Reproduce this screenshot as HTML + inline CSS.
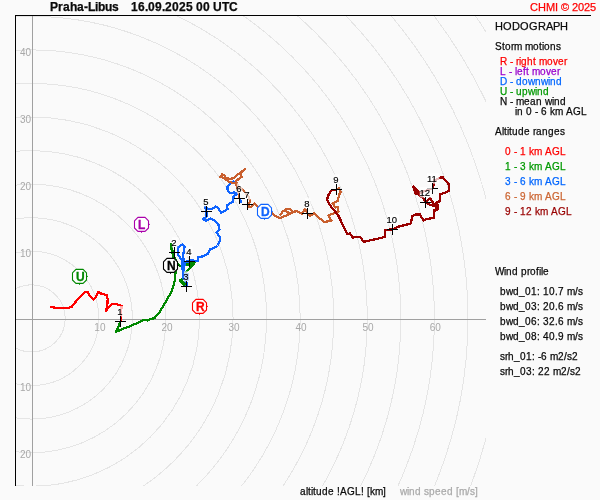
<!DOCTYPE html>
<html><head><meta charset="utf-8"><title>Hodograph</title>
<style>
html,body{margin:0;padding:0;background:#fafafa;}
svg{display:block;will-change:transform;font-family:"Liberation Sans",Arial,sans-serif;}
</style></head><body>
<svg width="600" height="500" viewBox="0 0 600 500">
<rect width="600" height="500" fill="#fafafa"/>
<defs><clipPath id="pc"><rect x="16" y="16" width="470" height="470"/></clipPath></defs>
<g clip-path="url(#pc)" fill="none" stroke="#e5e5e5" stroke-width="1" shape-rendering="crispEdges">
<circle cx="31.7" cy="318.4" r="33.56"/>
<circle cx="31.7" cy="318.4" r="67.12"/>
<circle cx="31.7" cy="318.4" r="100.68"/>
<circle cx="31.7" cy="318.4" r="134.24"/>
<circle cx="31.7" cy="318.4" r="167.80"/>
<circle cx="31.7" cy="318.4" r="201.36"/>
<circle cx="31.7" cy="318.4" r="234.92"/>
<circle cx="31.7" cy="318.4" r="268.48"/>
<circle cx="31.7" cy="318.4" r="302.04"/>
<circle cx="31.7" cy="318.4" r="335.60"/>
<circle cx="31.7" cy="318.4" r="369.16"/>
<circle cx="31.7" cy="318.4" r="402.72"/>
<circle cx="31.7" cy="318.4" r="436.28"/>
<circle cx="31.7" cy="318.4" r="469.84"/>
<circle cx="31.7" cy="318.4" r="503.40"/>
<circle cx="31.7" cy="318.4" r="536.96"/>
<circle cx="31.7" cy="318.4" r="570.52"/>
<circle cx="31.7" cy="318.4" r="604.08"/>
<circle cx="31.7" cy="318.4" r="637.64"/>
</g>
<g stroke="#a0a0a0" stroke-width="1" shape-rendering="crispEdges">
<line x1="32.5" y1="16" x2="32.5" y2="486"/>
<line x1="16" y1="319.5" x2="486" y2="319.5"/>
</g>
<g stroke="#000" stroke-width="1" shape-rendering="crispEdges">
<line x1="15.5" y1="15" x2="15.5" y2="486"/>
<line x1="15" y1="15.5" x2="591" y2="15.5"/>
</g>
<g font-size="10" fill="#a8a8a8" text-anchor="middle">
<text x="99.9" y="330.9">10</text>
<text x="167.0" y="330.9">20</text>
<text x="234.1" y="330.9">30</text>
<text x="301.1" y="330.9">40</text>
<text x="368.1" y="330.9">50</text>
<text x="435.2" y="330.9">60</text>
<text x="25.5" y="55.6">40</text>
<text x="25.5" y="122.7">30</text>
<text x="25.5" y="189.7">20</text>
<text x="25.5" y="256.8">10</text>
<text x="25.5" y="390.9">10</text>
<text x="25.5" y="457.9">20</text>
</g>
<g fill="none" stroke-width="2.25" stroke-linejoin="round" stroke-linecap="round" shape-rendering="crispEdges">
<path d="M51.3,307.0 L55.5,307.8 L68.3,307.8 L72.0,306.7 L75.0,302.5 L81.8,295.0 L85.5,291.7 L87.8,292.3 L90.8,297.3 L93.8,299.5 L96.0,297.3 L97.8,292.3 L99.3,292.0 L101.3,293.8 L106.8,295.0 L107.7,299.5 L107.3,304.8 L106.2,310.8 L108.0,307.8 L112.5,304.0 L116.3,304.0 L121.5,305.8 L121.3,312.0 L120.6,321.3" stroke="#ff0000"/>
<path d="M120.6,321.3 L116.0,331.8 L121.3,329.5 L131.0,325.8 L137.8,322.8 L143.0,320.2 L146.0,319.8 L147.5,320.8 L149.8,319.0 L154.3,318.3 L159.5,312.3 L164.0,304.8 L167.8,298.0 L171.5,292.0 L173.8,284.5 L174.8,280.0 L175.6,271.8 L175.0,262.0 L173.5,257.6 L172.4,252.0 L171.4,248.5 L170.7,243.8 L171.3,247.0 L172.6,252.0 L173.7,256.0 L175.5,259.5 L178.0,264.0 L180.0,266.0 L185.0,264.5 L194.8,262.6 L191.5,266.0 L188.0,270.3 L184.0,273.0 L183.0,278.0 L179.8,280.5 L184.4,284.4 L186.5,286.5" stroke="#008800"/>
<path d="M171,244.5 L171.8,249 L173,254 L174.2,258" stroke="#008800" stroke-width="2.9"/>
<path d="M180.3,280.8 L185,284.6" stroke="#008800" stroke-width="3.4"/>
<path d="M185.8,264.6 L192.8,264" stroke="#008800" stroke-width="3.2"/>
<path d="M186.5,286.5 L187.0,283.0 L183.0,278.0 L183.0,271.6 L182.4,261.0 L177.7,254.0 L178.4,247.0 L182.3,244.6 L184.7,246.7 L183.0,255.5 L183.7,261.0 L185.0,265.0 L183.0,262.0 L189.5,261.3 L191.0,259.7 L194.4,261.0 L198.0,261.4 L198.4,257.2 L202.4,256.4 L204.5,255.8 L208.0,253.5 L210.0,249.5 L215.0,247.5 L217.5,245.5 L219.5,242.0 L220.0,237.0 L216.5,232.5 L219.5,230.0 L218.5,225.0 L215.0,221.0 L210.5,218.5 L206.0,221.0 L203.0,219.0 L206.5,217.0 L206.5,211.3 L205.0,206.5 L208.5,209.0 L212.0,209.0 L216.0,206.5 L218.0,208.0 L221.0,212.5 L224.0,211.5 L227.5,209.0 L227.0,205.5 L230.0,203.0 L233.0,202.0 L233.5,196.5 L237.0,194.0 L234.0,192.5 L230.0,193.0 L227.5,190.0 L227.5,186.5 L230.0,183.5 L233.5,181.5 L235.5,183.0 L238.0,190.0 L239.5,198.5 L241.0,202.0" stroke="#0f64ff"/>
<path d="M182.6,261.5 L183.4,271" stroke="#0f64ff" stroke-width="3.6"/>
<path d="M186.7,272.5 V280.5" stroke="#0f64ff" stroke-width="5.4" stroke-linecap="butt"/>
<path d="M239.5,198.5 L239.0,195.0 L237.5,188.0 L236.0,183.5 L229.5,182.0 L222.0,177.0 L220.0,177.0 L222.0,174.5 L224.5,175.5 L225.0,177.5 L230.5,179.0 L233.5,178.0 L245.0,169.0 L241.0,173.0 L241.5,177.0 L236.0,181.0 L238.0,186.0 L243.0,190.0 L249.0,197.0 L250.0,202.0 L247.5,204.5 L249.5,207.0 L252.0,206.5 L254.5,203.5 L257.5,206.5 L262.0,210.0 L268.0,211.0 L272.5,213.5 L276.0,216.5 L280.0,218.0 L284.0,216.5 L290.0,214.0 L293.0,212.0 L290.0,209.0 L286.0,209.5 L283.0,211.3 L280.5,214.5 L283.0,211.3 L286.0,211.0 L290.0,214.0 L293.0,212.0 L297.0,211.0 L302.0,213.8 L305.0,209.0 L307.5,213.3 L310.0,216.0 L314.0,213.5 L318.0,217.0 L324.5,222.0 L331.5,220.5 L329.5,217.5 L328.5,215.5 L333.5,213.5 L338.5,212.0 L338.0,207.0 L335.5,207.5 L332.5,203.5 L338.0,200.5 L339.0,195.0 L340.5,192.0 L339.0,188.0 L336.5,189.5" stroke="#c95f2e"/>
<path d="M336.5,189.5 L331.0,190.5 L328.5,195.0 L327.0,199.5 L329.0,204.0 L333.0,209.0 L338.0,215.0 L341.0,221.0 L346.0,232.0 L347.5,234.0 L350.0,233.5 L352.5,237.5 L360.0,237.0 L363.5,241.5 L365.0,241.5 L385.0,237.0 L385.3,230.0 L392.5,229.3 L399.0,226.5 L411.0,223.5 L412.0,216.5 L415.0,214.5 L420.0,214.5 L423.5,220.5 L427.0,219.0 L434.0,218.0 L434.5,210.0 L437.0,208.0 L436.0,202.5 L439.5,202.0 L440.0,194.5 L449.0,191.0 L448.5,183.0 L445.5,180.5 L442.5,177.0 L439.5,178.0 L434.0,180.5 L433.0,188.5 L429.0,189.5 L420.0,193.0 L413.5,186.5 L416.0,193.0 L423.0,198.0 L425.5,202.3 L430.0,198.0 L435.0,206.0 L430.0,205.0 L425.5,202.3" stroke="#990000"/>
<path d="M413.4,186.6 L419,192 L419,193.4 L415.6,193.8 L414.4,190 Z" stroke="#990000" fill="#990000"/>
<path d="M436.5,203.5 V209.5" stroke="#990000" stroke-width="4"/>
</g>
<path d="M195.9,299.4 L203.1,299.4 L206.5,302.8 L206.5,310.0 L203.1,313.4 L195.9,313.4 L192.5,310.0 L192.5,302.8 Z" fill="#ffffff" stroke="#ff0000" stroke-width="1.1" stroke-linejoin="round"/>
<path d="M199.5,313.4 v1.4 M206.5,306.4 h1.4" stroke="#ff0000" stroke-width="1" fill="none"/>
<text x="196.0" y="310.75" font-size="12" font-weight="bold" fill="#ff0000" stroke="#ff0000" stroke-width="0.3">R</text>
<path d="M137.9,217.4 L145.1,217.4 L148.5,220.8 L148.5,228.0 L145.1,231.4 L137.9,231.4 L134.5,228.0 L134.5,220.8 Z" fill="#ffffff" stroke="#aa00aa" stroke-width="1.1" stroke-linejoin="round"/>
<path d="M141.5,231.4 v1.4 M148.5,224.4 h1.4" stroke="#aa00aa" stroke-width="1" fill="none"/>
<text x="138.0" y="228.75" font-size="12" font-weight="bold" fill="#aa00aa" stroke="#aa00aa" stroke-width="0.3">L</text>
<path d="M260.9,204.4 L268.1,204.4 L271.5,207.8 L271.5,215.0 L268.1,218.4 L260.9,218.4 L257.5,215.0 L257.5,207.8 Z" fill="#ffffff" stroke="#0f64ff" stroke-width="1.1" stroke-linejoin="round"/>
<path d="M264.5,218.4 v1.4 M271.5,211.4 h1.4" stroke="#0f64ff" stroke-width="1" fill="none"/>
<text x="261.0" y="215.75" font-size="12" font-weight="bold" fill="#0f64ff" stroke="#0f64ff" stroke-width="0.3">D</text>
<path d="M75.9,269.4 L83.1,269.4 L86.5,272.8 L86.5,280.0 L83.1,283.4 L75.9,283.4 L72.5,280.0 L72.5,272.8 Z" fill="#ffffff" stroke="#008800" stroke-width="1.1" stroke-linejoin="round"/>
<path d="M79.5,283.4 v1.4 M86.5,276.4 h1.4" stroke="#008800" stroke-width="1" fill="none"/>
<text x="76.0" y="280.75" font-size="12" font-weight="bold" fill="#008800" stroke="#008800" stroke-width="0.3">U</text>
<path d="M166.9,258.4 L174.1,258.4 L177.5,261.8 L177.5,269.0 L174.1,272.4 L166.9,272.4 L163.5,269.0 L163.5,261.8 Z" fill="#ffffff" stroke="#000000" stroke-width="1.1" stroke-linejoin="round"/>
<path d="M170.5,272.4 v1.4 M177.5,265.4 h1.4" stroke="#000000" stroke-width="1" fill="none"/>
<text x="167.0" y="269.75" font-size="12" font-weight="bold" fill="#000000" stroke="#000000" stroke-width="0.3">N</text>
<rect x="118.0" y="306.1" width="5.6" height="10.4" fill="#ffffff" fill-opacity="0.72"/>
<text x="119.9" y="315.2" font-size="9.5" fill="#000" stroke="#000" stroke-width="0.15" text-anchor="middle">1</text>
<path d="M115.0,321.5 H126.0 M120.5,316.0 V327.0" stroke="#000" stroke-width="1" fill="none"/>
<rect x="171.9" y="237.1" width="5.6" height="10.4" fill="#ffffff" fill-opacity="0.72"/>
<text x="173.8" y="246.2" font-size="9.5" fill="#000" stroke="#000" stroke-width="0.15" text-anchor="middle">2</text>
<path d="M169.0,252.5 H180.0 M174.5,247.0 V258.0" stroke="#000" stroke-width="1" fill="none"/>
<rect x="183.9" y="271.3" width="5.6" height="10.4" fill="#ffffff" fill-opacity="0.72"/>
<text x="185.8" y="280.4" font-size="9.5" fill="#000" stroke="#000" stroke-width="0.15" text-anchor="middle">3</text>
<path d="M181.0,286.5 H192.0 M186.5,281.0 V292.0" stroke="#000" stroke-width="1" fill="none"/>
<rect x="186.9" y="246.1" width="5.6" height="10.4" fill="#ffffff" fill-opacity="0.72"/>
<text x="188.8" y="255.2" font-size="9.5" fill="#000" stroke="#000" stroke-width="0.15" text-anchor="middle">4</text>
<path d="M184.0,261.5 H195.0 M189.5,256.0 V267.0" stroke="#000" stroke-width="1" fill="none"/>
<rect x="203.9" y="196.1" width="5.6" height="10.4" fill="#ffffff" fill-opacity="0.72"/>
<text x="205.8" y="205.2" font-size="9.5" fill="#000" stroke="#000" stroke-width="0.15" text-anchor="middle">5</text>
<path d="M201.0,211.5 H212.0 M206.5,206.0 V217.0" stroke="#000" stroke-width="1" fill="none"/>
<rect x="236.9" y="183.3" width="5.6" height="10.4" fill="#ffffff" fill-opacity="0.72"/>
<text x="238.8" y="192.4" font-size="9.5" fill="#000" stroke="#000" stroke-width="0.15" text-anchor="middle">6</text>
<path d="M234.0,198.5 H245.0 M239.5,193.0 V204.0" stroke="#000" stroke-width="1" fill="none"/>
<rect x="244.9" y="189.3" width="5.6" height="10.4" fill="#ffffff" fill-opacity="0.72"/>
<text x="246.8" y="198.4" font-size="9.5" fill="#000" stroke="#000" stroke-width="0.15" text-anchor="middle">7</text>
<path d="M242.0,204.5 H253.0 M247.5,199.0 V210.0" stroke="#000" stroke-width="1" fill="none"/>
<rect x="304.9" y="198.1" width="5.6" height="10.4" fill="#ffffff" fill-opacity="0.72"/>
<text x="306.8" y="207.2" font-size="9.5" fill="#000" stroke="#000" stroke-width="0.15" text-anchor="middle">8</text>
<path d="M302.0,213.5 H313.0 M307.5,208.0 V219.0" stroke="#000" stroke-width="1" fill="none"/>
<rect x="333.9" y="174.3" width="5.6" height="10.4" fill="#ffffff" fill-opacity="0.72"/>
<text x="335.8" y="183.4" font-size="9.5" fill="#000" stroke="#000" stroke-width="0.15" text-anchor="middle">9</text>
<path d="M331.0,189.5 H342.0 M336.5,184.0 V195.0" stroke="#000" stroke-width="1" fill="none"/>
<rect x="386.7" y="214.1" width="12.4" height="10.4" fill="#ffffff" fill-opacity="0.72"/>
<text x="391.8" y="223.2" font-size="9.5" fill="#000" stroke="#000" stroke-width="0.15" text-anchor="middle">10</text>
<path d="M387.0,229.5 H398.0 M392.5,224.0 V235.0" stroke="#000" stroke-width="1" fill="none"/>
<rect x="426.8" y="173.3" width="12.4" height="10.4" fill="#ffffff" fill-opacity="0.72"/>
<text x="431.9" y="182.4" font-size="9.5" fill="#000" stroke="#000" stroke-width="0.15" text-anchor="middle">11</text>
<path d="M427.0,188.5 H438.0 M432.5,183.0 V194.0" stroke="#000" stroke-width="1" fill="none"/>
<rect x="419.7" y="187.1" width="12.4" height="10.4" fill="#ffffff" fill-opacity="0.72"/>
<text x="424.8" y="196.2" font-size="9.5" fill="#000" stroke="#000" stroke-width="0.15" text-anchor="middle">12</text>
<path d="M420.0,202.5 H431.0 M425.5,197.0 V208.0" stroke="#000" stroke-width="1" fill="none"/>
<g stroke-width="0.25">
<text x="50 58 63 70 77 84 88 95 98 105 112 119 122 125 128 131 138 145 148 155 162 165 172 179 186 193 196 203 210 213 222 229" y="11" font-size="12" fill="#0a0a0a" font-weight="bold" xml:space="preserve" stroke="#0a0a0a">Praha-Libus    16.09.2025 00 UTC</text>
<text x="530 538 546 555 558 561 569 572 578 584 590" y="10.6" font-size="11" fill="#ff0000" xml:space="preserve" stroke="#ff0000">CHMI © 2025</text>
<text x="495 503 512 520 529 538 546 553 560" y="30" font-size="11" fill="#0a0a0a" xml:space="preserve" stroke="#0a0a0a">HODOGRAPH</text>
<text x="495 502 505 511 514 522 525 533 539 542 544 550 556" y="50" font-size="10" fill="#0a0a0a" xml:space="preserve" stroke="#0a0a0a">Storm motions</text>
<text x="500 507 510 513 516 519 521 527 533 536 539 547 553 558 564" y="64.7" font-size="10" fill="#ff0000" xml:space="preserve" stroke="#ff0000">R - right mover</text>
<text x="500 506 509 512 515 517 523 526 529 532 540 546 551 557" y="74.7" font-size="10" fill="#9900cc" xml:space="preserve" stroke="#9900cc">L - left mover</text>
<text x="500 507 510 513 516 522 528 535 541 548 550 556" y="84.7" font-size="10" fill="#0066ff" xml:space="preserve" stroke="#0066ff">D - downwind</text>
<text x="500 507 510 513 516 522 528 535 537 543" y="94.7" font-size="10" fill="#009900" xml:space="preserve" stroke="#009900">U - upwind</text>
<text x="500 507 510 513 516 524 530 536 542 545 552 554 560" y="104.7" font-size="10" fill="#0a0a0a" xml:space="preserve" stroke="#0a0a0a">N - mean wind</text>
<text x="515 517 523 526 532 535 538 541 547 550 555 563 566 573 581" y="114.7" font-size="10" fill="#0a0a0a" xml:space="preserve" stroke="#0a0a0a">in 0 - 6 km AGL</text>
<text x="495 502 504 507 509 512 518 524 530 533 536 542 548 554 560" y="135" font-size="10" fill="#0a0a0a" xml:space="preserve" stroke="#0a0a0a">Altitude ranges</text>
<text x="505 511 514 517 520 526 529 534 542 545 552 560" y="155" font-size="10" fill="#ff0000" xml:space="preserve" stroke="#ff0000">0 - 1 km AGL</text>
<text x="505 511 514 517 520 526 529 534 542 545 552 560" y="170" font-size="10" fill="#009900" xml:space="preserve" stroke="#009900">1 - 3 km AGL</text>
<text x="505 511 514 517 520 526 529 534 542 545 552 560" y="185" font-size="10" fill="#0066ff" xml:space="preserve" stroke="#0066ff">3 - 6 km AGL</text>
<text x="505 511 514 517 520 526 529 534 542 545 552 560" y="200" font-size="10" fill="#cc6633" xml:space="preserve" stroke="#cc6633">6 - 9 km AGL</text>
<text x="505 511 514 517 520 526 532 535 540 548 551 558 566" y="215" font-size="10" fill="#990000" xml:space="preserve" stroke="#990000">9 - 12 km AGL</text>
<text x="495 504 506 512 518 521 527 530 536 539 541 543" y="275" font-size="10" fill="#0a0a0a" xml:space="preserve" stroke="#0a0a0a">Wind profile</text>
<text x="500 506 513 519 525 531 537 540 543 549 555 558 564 567 575 578" y="295" font-size="10" fill="#0a0a0a" xml:space="preserve" stroke="#0a0a0a">bwd_01: 10.7 m/s</text>
<text x="500 506 513 519 525 531 537 540 543 549 555 558 564 567 575 578" y="310" font-size="10" fill="#0a0a0a" xml:space="preserve" stroke="#0a0a0a">bwd_03: 20.6 m/s</text>
<text x="500 506 513 519 525 531 537 540 543 549 555 558 564 567 575 578" y="325" font-size="10" fill="#0a0a0a" xml:space="preserve" stroke="#0a0a0a">bwd_06: 32.6 m/s</text>
<text x="500 506 513 519 525 531 537 540 543 549 555 558 564 567 575 578" y="340" font-size="10" fill="#0a0a0a" xml:space="preserve" stroke="#0a0a0a">bwd_08: 40.9 m/s</text>
<text x="500 505 508 514 520 526 532 535 538 541 547 550 558 564 567 572" y="360" font-size="10" fill="#0a0a0a" xml:space="preserve" stroke="#0a0a0a">srh_01: -6 m2/s2</text>
<text x="500 505 508 514 520 526 532 535 538 544 550 553 561 567 570 575" y="375" font-size="10" fill="#0a0a0a" xml:space="preserve" stroke="#0a0a0a">srh_03: 22 m2/s2</text>
<text x="300 306 308 311 313 316 322 328 334 337 340 347 355 361 364 367 370 375 383" y="495" font-size="10" fill="#0a0a0a" xml:space="preserve" stroke="#0a0a0a">altitude !AGL! [km]</text>
<text x="400 407 409 415 421 424 429 435 441 447 453 456 459 467 470 475" y="495" font-size="10" fill="#aaaaaa" xml:space="preserve" stroke="#aaaaaa">wind speed [m/s]</text>
</g>
</svg>
</body></html>
